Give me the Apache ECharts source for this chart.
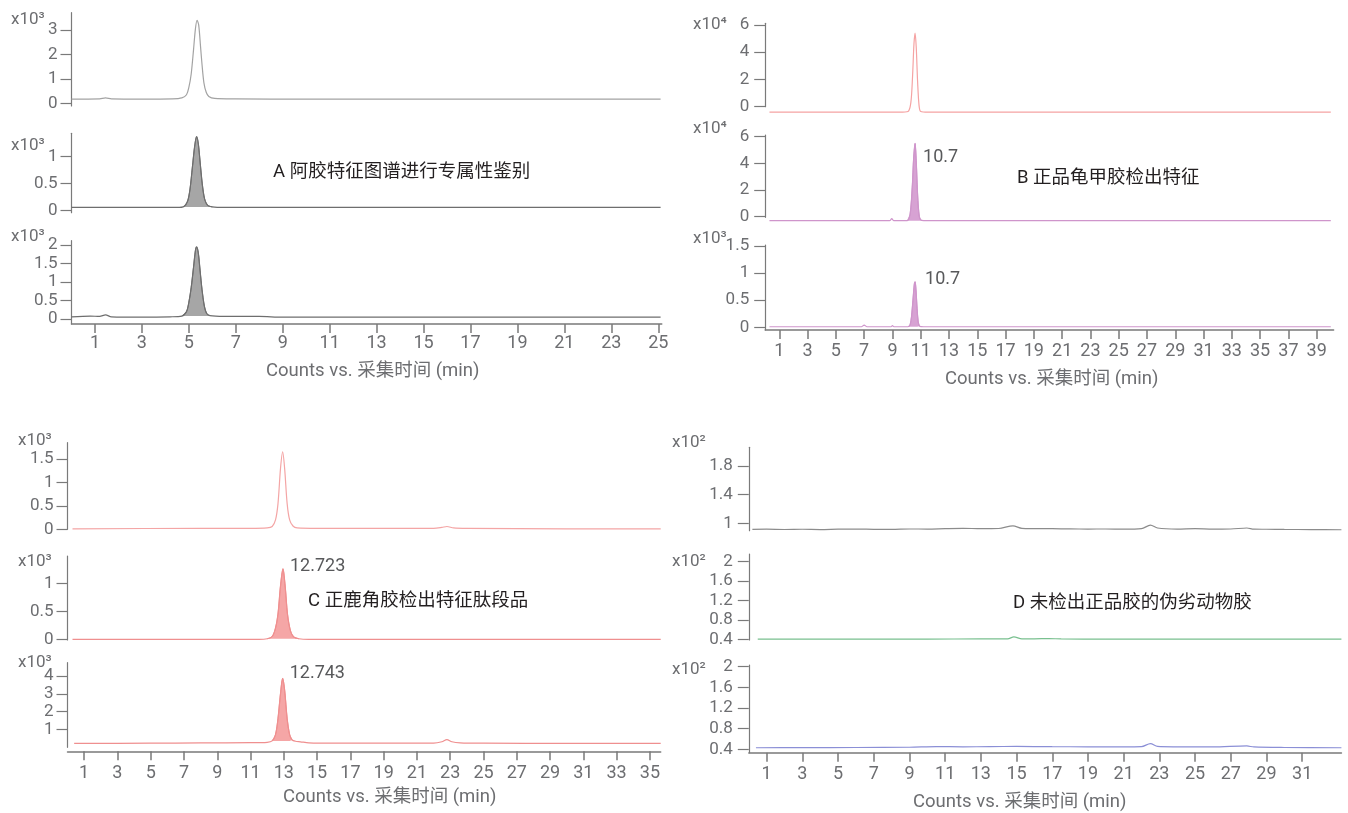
<!DOCTYPE html>
<html><head><meta charset="utf-8">
<script src="https://cdn.jsdelivr.net/npm/echarts@6/dist/echarts.min.js"></script>
<style>html,body{margin:0;padding:0;background:#fff}#c{width:1348px;height:813px}</style>
</head><body><div id="c"></div>
<script>
// ---------- DATA ----------
const A_xticks = [1,3,5,7,9,11,13,15,17,19,21,23,25];
const B_xticks = [1,3,5,7,9,11,13,15,17,19,21,23,25,27,29,31,33,35,37,39];
const C_xticks = [1,3,5,7,9,11,13,15,17,19,21,23,25,27,29,31,33,35];
const D_xticks = [1,3,5,7,9,11,13,15,17,19,21,23,25,27,29,31];

const A1_yticks = [0,1,2,3];
const A2_yticks = [0,0.5,1];
const A3_yticks = [0,0.5,1,1.5,2];
const B1_yticks = [0,2,4,6];
const B2_yticks = [0,2,4,6];
const B3_yticks = [0,0.5,1,1.5];
const C1_yticks = [0,0.5,1,1.5];
const C2_yticks = [0,0.5,1];
const C3_yticks = [1,2,3,4];
const D1_yticks = [1,1.4,1.8];
const D2_yticks = [0.4,0.8,1.2,1.6,2];
const D3_yticks = [0.4,0.8,1.2,1.6,2];

const A_scales = ['x10³','x10³','x10³'];
const B_scales = ['x10⁴','x10⁴','x10³'];
const C_scales = ['x10³','x10³','x10³'];
const D_scales = ['x10²','x10²','x10²'];

const xTitle = 'Counts vs. 采集时间 (min)';
const A_note = 'A 阿胶特征图谱进行专属性鉴别';
const B_note = 'B 正品龟甲胶检出特征';
const C_note = 'C 正鹿角胶检出特征肽段品';
const D_note = 'D 未检出正品胶的伪劣动物胶';

const B2_peakLabel = '10.7';
const B3_peakLabel = '10.7';
const C2_peakLabel = '12.723';
const C3_peakLabel = '12.743';

// traces: [time (min), counts in scale units]
const A1_trace = [[0,0.17],[1.2,0.18],[1.45,0.22],[1.7,0.18],[3,0.17],[4.3,0.18],[4.7,0.22],[4.9,0.35],[5.0,0.65],[5.1,1.2],[5.2,2.2],[5.28,3.05],[5.35,3.4],[5.42,3.2],[5.5,2.3],[5.56,1.6],[5.64,0.85],[5.74,0.45],[5.85,0.28],[6.1,0.2],[7,0.18],[10,0.17],[16,0.17],[20,0.17],[25.1,0.17]];
const A2_trace = [[0,0.06],[3,0.06],[4.5,0.06],[4.8,0.08],[4.95,0.18],[5.05,0.4],[5.15,0.8],[5.25,1.2],[5.33,1.37],[5.4,1.25],[5.48,0.9],[5.57,0.5],[5.67,0.22],[5.8,0.1],[6.0,0.07],[6.5,0.06],[12,0.06],[25.1,0.06]];
const A3_trace = [[0,0.06],[0.8,0.08],[1.2,0.07],[1.45,0.11],[1.7,0.06],[3,0.05],[4.2,0.06],[4.7,0.08],[4.9,0.2],[5.0,0.45],[5.1,0.85],[5.2,1.4],[5.28,1.85],[5.33,1.95],[5.4,1.8],[5.48,1.3],[5.56,0.8],[5.66,0.35],[5.76,0.15],[5.9,0.09],[6.5,0.07],[8,0.07],[9,0.05],[12,0.05],[25.1,0.05]];

const B1_trace = [[0.3,-0.4],[5,-0.4],[9.5,-0.4],[10.1,-0.35],[10.3,0.3],[10.42,2.2],[10.52,4.6],[10.6,5.4],[10.68,4.4],[10.78,1.8],[10.88,0.1],[11.0,-0.35],[11.5,-0.4],[20,-0.4],[30,-0.4],[40,-0.4]];
const B2_trace = [[0.3,-0.3],[5,-0.3],[8.8,-0.3],[8.95,-0.15],[9.1,-0.3],[10.05,-0.3],[10.25,0.2],[10.4,2.2],[10.5,4.4],[10.6,5.5],[10.68,4.2],[10.78,1.6],[10.9,0],[11.05,-0.28],[11.5,-0.3],[20,-0.3],[30,-0.3],[40,-0.3]];
const B3_trace = [[0.3,0.01],[6.8,0.01],[7.0,0.04],[7.2,0.01],[8.9,0.01],[9.0,0.03],[9.1,0.01],[10.1,0.01],[10.25,0.05],[10.35,0.2],[10.45,0.5],[10.55,0.8],[10.6,0.84],[10.66,0.7],[10.74,0.35],[10.82,0.1],[10.92,0.02],[11.2,0.01],[20,0.01],[30,0.01],[40,0.01]];

const C1_trace = [[0.3,0.01],[8,0.02],[11,0.02],[12,0.03],[12.3,0.06],[12.5,0.2],[12.65,0.55],[12.8,1.3],[12.93,1.66],[13.05,1.3],[13.2,0.55],[13.35,0.2],[13.55,0.07],[13.8,0.03],[15,0.02],[22,0.02],[22.5,0.04],[22.8,0.06],[23.2,0.03],[24,0.02],[30,0.01],[35.65,0.01]];
const C2_trace = [[0.3,0],[11.5,0],[12.0,0.01],[12.3,0.05],[12.5,0.2],[12.65,0.45],[12.8,0.95],[12.95,1.26],[13.08,0.95],[13.22,0.45],[13.4,0.15],[13.6,0.04],[13.9,0.01],[14.5,0],[35.65,0]];
const C3_trace = [[0.4,0.21],[5,0.22],[8,0.24],[11,0.25],[12,0.27],[12.3,0.35],[12.5,0.7],[12.65,1.6],[12.8,3.0],[12.93,3.87],[13.05,3.2],[13.2,1.6],[13.35,0.7],[13.5,0.4],[13.7,0.33],[14,0.3],[14.5,0.24],[16,0.22],[22,0.22],[22.5,0.3],[22.8,0.42],[23.1,0.3],[23.6,0.24],[25,0.22],[30,0.21],[35.65,0.21]];

const D1_trace = [[0.2,0.915],[1,0.918],[2,0.914],[3,0.917],[4,0.913],[5,0.918],[6,0.92],[7,0.916],[8,0.915],[9,0.921],[10,0.92],[11,0.926],[12,0.93],[13,0.925],[14,0.928],[14.8,0.965],[15.3,0.93],[16,0.927],[17,0.925],[18,0.922],[19,0.92],[20,0.921],[21,0.918],[22,0.925],[22.5,0.975],[22.9,0.935],[24,0.92],[25,0.925],[26,0.92],[27,0.921],[27.9,0.935],[28.3,0.918],[29,0.917],[30,0.915],[31.5,0.913],[33.2,0.91]];
const D2_trace = [[0.5,0.405],[5,0.405],[10,0.405],[13,0.408],[14.5,0.41],[14.85,0.45],[15.3,0.41],[16,0.41],[16.8,0.415],[17.5,0.408],[20,0.405],[25,0.405],[30,0.405],[33.2,0.405]];
const D3_trace = [[0.4,0.43],[3,0.432],[6,0.435],[9,0.44],[10.5,0.452],[12,0.448],[13.5,0.452],[15,0.455],[17,0.45],[19,0.448],[21,0.445],[22,0.45],[22.5,0.51],[22.9,0.455],[24,0.447],[26,0.445],[27.9,0.465],[28.3,0.445],[30,0.435],[33.2,0.43]];

// ---------- LAYOUT / STYLE ----------
const FONT = "Roboto, 'Noto Sans CJK SC', sans-serif";
const TICKC = '#6d6e71';
const AXC = '#7a7a7a';

const panels = [
  {left:71.5, perMin:23.47, xmax:25.15, xticks:A_xticks, xoff:0, ylabMargin:14, xlabMargin:10.5,
   title:{x:266, y:371}, note:{text:A_note, x:273, y:172}, scales:A_scales, scaleX:11,
   subs:[
    {data:A1_trace, yticks:A1_yticks, top:12.7, bottom:106, ymin:-0.11, ymax:3.71, color:'#a3a3a3', sy:20},
    {data:A2_trace, yticks:A2_yticks, top:133.3, bottom:212.7, ymin:-0.037, ymax:1.433, color:'#6e6e6e', fill:'#a6a6a6', fr:[4.7,6.1], sy:146},
    {data:A3_trace, yticks:A3_yticks, top:240.7, bottom:324, ymin:-0.135, ymax:2.116, color:'#6e6e6e', fill:'#a6a6a6', fr:[4.7,6.1], sy:237}
   ]},
  {left:765.2, perMin:14.14, xmax:40.2, xticks:B_xticks, xoff:0, ylabMargin:16, xlabMargin:12.7,
   title:{x:945, y:379}, note:{text:B_note, x:1017, y:178}, scales:B_scales, scaleX:693,
   subs:[
    {data:B1_trace, yticks:B1_yticks, top:23.3, bottom:106.7, ymin:0, ymax:6.125, color:'#f5a3a3', sy:25},
    {data:B2_trace, yticks:B2_yticks, top:135, bottom:217.3, ymin:-0.045, ymax:6.13, color:'#cf95cb', fill:'#d7a2d3', fr:[10.0,11.1], sy:129, peak:B2_peakLabel, poff:[3,14]},
    {data:B3_trace, yticks:B3_yticks, top:245, bottom:330, ymin:-0.05, ymax:1.518, color:'#cf95cb', fill:'#d7a2d3', fr:[10.1,11.0], sy:239, peak:B3_peakLabel, poff:[5,-2]}
   ]},
  {left:67.5, perMin:16.64, xmax:35.65, xticks:C_xticks, xoff:4, ylabMargin:14, xlabMargin:13.3,
   title:{x:283, y:797}, note:{text:C_note, x:308, y:601}, scales:C_scales, scaleX:18,
   subs:[
    {data:C1_trace, yticks:C1_yticks, top:442.7, bottom:529.3, ymin:0, ymax:1.854, color:'#f4a5a5', sy:441},
    {data:C2_trace, yticks:C2_yticks, top:556, bottom:640, ymin:-0.0125, ymax:1.4875, color:'#ef8f8f', fill:'#f5a6a6', fr:[12.0,13.9], sy:562, peak:C2_peakLabel, poff:[2,-2]},
    {data:C3_trace, yticks:C3_yticks, top:662.7, bottom:747.3, ymin:-0.01, ymax:4.75, color:'#ef8f8f', fill:'#f5a6a6', fr:[12.2,13.6], sy:663, peak:C3_peakLabel, poff:[2,-5]}
   ]},
  {left:748.8, perMin:17.85, xmax:33.2, xticks:D_xticks, xoff:0, ylabMargin:16, xlabMargin:13.3,
   title:{x:913, y:802}, note:{text:D_note, x:1013, y:603}, scales:D_scales, scaleX:672,
   subs:[
    {data:D1_trace, yticks:D1_yticks, top:447.3, bottom:530.7, ymin:0.897, ymax:2.06, color:'#8c8c8c', sy:443},
    {data:D2_trace, yticks:D2_yticks, top:554, bottom:640, ymin:0.386, ymax:2.159, color:'#79c08f', sy:562},
    {data:D3_trace, yticks:D3_yticks, top:665, bottom:752.7, ymin:0.334, ymax:2.033, color:'#8b8fd6', sy:670}
   ]}
];

const grid = [], xAxis = [], yAxis = [], series = [], graphic = [];
let gi = 0;
panels.forEach(p => {
  const width = p.xmax * p.perMin;
  p.subs.forEach((s, k) => {
    const isBottom = k === p.subs.length - 1;
    grid.push({left:p.left, top:s.top, width:width, height:s.bottom - s.top,
               containLabel:false, outerBoundsMode:'none'});
    xAxis.push({type:'value', gridIndex:gi, min:0, max:p.xmax, show:isBottom, offset:isBottom ? p.xoff : 0,
      axisLine:{show:true, onZero:false, lineStyle:{color:AXC, width:1.5}},
      axisTick:{show:true, length:9, customValues:p.xticks, lineStyle:{color:AXC, width:1.5}},
      axisLabel:{customValues:p.xticks, margin:p.xlabMargin, color:TICKC, fontSize:18, fontFamily:FONT},
      splitLine:{show:false}});
    yAxis.push({type:'value', gridIndex:gi, min:s.ymin, max:s.ymax,
      axisLine:{show:true, onZero:false, lineStyle:{color:AXC, width:1.2}},
      axisTick:{show:true, length:11, customValues:s.yticks, lineStyle:{color:AXC, width:1.2}},
      axisLabel:{customValues:s.yticks, margin:p.ylabMargin, color:TICKC, fontSize:17, fontFamily:FONT},
      splitLine:{show:false}});
    if (s.fill) {
      const sub = s.data.filter(d => d[0] >= s.fr[0] && d[0] <= s.fr[1]);
      const base = Math.min(...sub.map(d => d[1]));
      series.push({type:'line', xAxisIndex:gi, yAxisIndex:gi, data:sub, showSymbol:false, smooth:0.3,
        clip:false, z:1, silent:true,
        lineStyle:{color:s.color, width:1}, areaStyle:{color:s.fill, opacity:1, origin:base}});
    }
    const ser = {type:'line', xAxisIndex:gi, yAxisIndex:gi, data:s.data, showSymbol:false, smooth:0.3,
      clip:false, z:2, silent:true, lineStyle:{color:s.color, width:1.2}};
    if (s.peak) {
      const pk = s.data.reduce((a, b) => b[1] > a[1] ? b : a);
      ser.markPoint = {symbol:'circle', symbolSize:0, silent:true, animation:false,
        data:[{coord:pk, label:{show:true, formatter:s.peak, position:'right', offset:s.poff,
               color:'#58595b', fontSize:18, fontFamily:FONT}}]};
    }
    series.push(ser);
    graphic.push({type:'text', x:p.scaleX, y:s.sy, silent:true,
      style:{text:p.scales[k], fill:TICKC, font:'17px ' + FONT, align:'left', verticalAlign:'middle',
             textAlign:'left', textVerticalAlign:'middle'}});
    gi++;
  });
  graphic.push({type:'text', x:p.title.x, y:p.title.y, silent:true,
    style:{text:xTitle, fill:TICKC, font:'18.5px ' + FONT, align:'left', verticalAlign:'middle',
           textAlign:'left', textVerticalAlign:'middle'}});
  graphic.push({type:'text', x:p.note.x, y:p.note.y, silent:true,
    style:{text:p.note.text, fill:'#231f20', font:'18.5px ' + FONT, align:'left', verticalAlign:'middle',
           textAlign:'left', textVerticalAlign:'middle'}});
});

const chart = echarts.init(document.getElementById('c'), null, {renderer:'canvas'});
chart.setOption({
  animation:false,
  backgroundColor:'#ffffff',
  textStyle:{fontFamily:FONT},
  grid, xAxis, yAxis, series, graphic
});
</script></body></html>
